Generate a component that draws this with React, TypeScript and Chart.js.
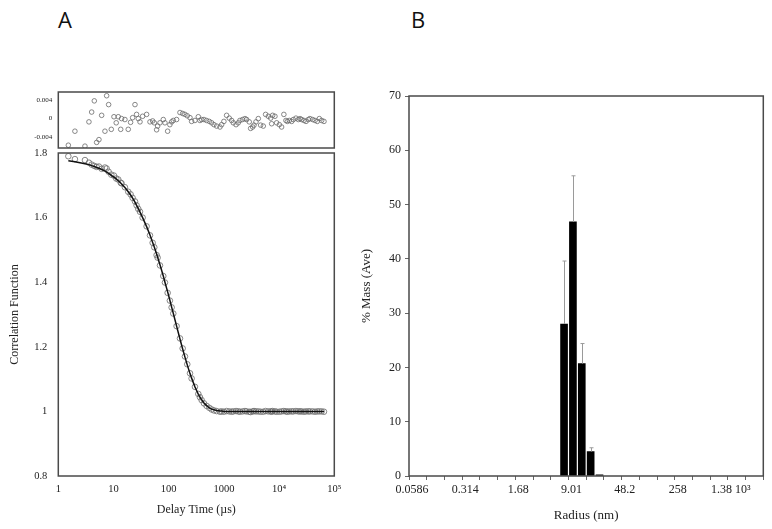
import React, { useEffect, useRef } from "react";
import { Chart, registerables } from "chart.js";

Chart.register(...registerables);

// ---------- Panel A data ----------
const delayTimes = [
  1.52, 2.0, 3.04, 3.59, 4.02, 4.49, 4.95, 5.45, 6.1, 7.0, 7.51, 8.16, 9.12, 10.2, 11.2, 12.2,
  13.5, 14.0, 16.1, 18.5, 20.4, 22.2, 24.5, 26.2, 28.1, 30.2, 33.7, 39.8, 45.8, 51.2, 54.8, 60.4,
  63.0, 69.5, 79.8, 85.5, 95.7, 105, 113, 121, 139, 160, 179, 197, 217, 243, 260, 299, 344, 368,
  395, 435, 486, 544, 600, 661, 738, 849, 910, 1000, 1120, 1250, 1380, 1480, 1660, 1820, 1950,
  2180, 2410, 2580, 2880, 3050, 3320, 3510, 3810, 4200, 4630, 5170, 5700, 6370, 7030, 7330, 7640,
  8410, 9020, 10100, 11100, 12200, 13300, 14100, 15300, 16900, 18100, 20200, 22300, 23900, 25600,
  28200, 30700, 33800, 36200, 40500, 44700, 49200, 53500, 59000, 65000,
];

const fitValues = [
  1.776, 1.773, 1.767, 1.764, 1.761, 1.758, 1.755, 1.753, 1.749, 1.744, 1.741, 1.737, 1.731, 1.725,
  1.72, 1.714, 1.707, 1.704, 1.693, 1.68, 1.67, 1.66, 1.648, 1.638, 1.628, 1.617, 1.6, 1.572, 1.546,
  1.523, 1.509, 1.487, 1.477, 1.454, 1.419, 1.4, 1.37, 1.344, 1.323, 1.304, 1.264, 1.224, 1.193,
  1.168, 1.144, 1.117, 1.103, 1.076, 1.053, 1.044, 1.036, 1.026, 1.018, 1.011, 1.007, 1.005, 1.003,
  1.001, 1.001, 1.0, 1.0, 1.0, 1.0, 1.0, 1.0, 1.0, 1.0, 1.0, 1.0, 1.0, 1.0, 1.0, 1.0, 1.0, 1.0,
  1.0, 1.0, 1.0, 1.0, 1.0, 1.0, 1.0, 1.0, 1.0, 1.0, 1.0, 1.0, 1.0, 1.0, 1.0, 1.0, 1.0, 1.0, 1.0,
  1.0, 1.0, 1.0, 1.0, 1.0, 1.0, 1.0, 1.0, 1.0, 1.0, 1.0, 1.0, 1.0,
];

const correlationData = [
  1.79, 1.781, 1.778, 1.77, 1.764, 1.76, 1.757, 1.758, 1.751, 1.755, 1.752, 1.742, 1.733, 1.73,
  1.721, 1.718, 1.708, 1.706, 1.694, 1.68, 1.672, 1.661, 1.65, 1.638, 1.627, 1.618, 1.6, 1.573,
  1.545, 1.522, 1.508, 1.484, 1.476, 1.452, 1.419, 1.399, 1.367, 1.343, 1.322, 1.303, 1.264, 1.226,
  1.195, 1.17, 1.146, 1.118, 1.102, 1.076, 1.054, 1.044, 1.035, 1.025, 1.017, 1.011, 1.006, 1.003,
  1.001, 0.999, 1.0, 0.999, 1.001, 1.0, 0.999, 1.0, 1.001, 1.0, 0.999, 1.0, 1.001, 1.0, 0.999,
  0.998, 1.0, 1.001, 1.0, 1.0, 0.999, 0.999, 1.001, 1.0, 1.0, 0.999, 1.001, 1.0, 0.999, 0.999,
  1.0, 1.001, 1.0, 0.999, 1.0, 1.0, 1.0, 1.001, 1.0, 1.0, 1.0, 0.999, 1.0, 1.0, 1.0, 1.0, 0.999,
  1.0, 1.0, 1.0, 0.999,
];

const residuals = [
  -0.0057, -0.0027, -0.0059, -0.0007, 0.0014, 0.0038, -0.0051, -0.0045, 0.0007, -0.0027, 0.0049,
  0.003, -0.0023, 0.0004, -0.0009, 0.0004, -0.0023, 0.0, -0.0002, -0.0023, -0.0008, 0.0002, 0.003,
  0.0009, 0.0, -0.0007, 0.0005, 0.0009, -0.0007, -0.0005, -0.0009, -0.0024, -0.0016, -0.0009,
  -0.0002, -0.0009, -0.0027, -0.0013, -0.0007, -0.0004, -0.0002, 0.0013, 0.0011, 0.0009, 0.0006,
  0.0002, -0.0006, -0.0004, 0.0004, -0.0004, -0.0002, -0.0002, -0.0004, -0.0006, -0.0009, -0.0013,
  -0.0016, -0.0018, -0.0013, -0.0006, 0.0007, 0.0001, -0.0004, -0.0009, -0.0013, -0.0009, -0.0004,
  -0.0002, 0.0, -0.0002, -0.0007, -0.0021, -0.0018, -0.0014, -0.0007, 0.0, -0.0014, -0.0016, 0.0009,
  0.0005, 0.0001, -0.0011, 0.0007, 0.0005, -0.0009, -0.0013, -0.0018, 0.0009, -0.0004, -0.0006,
  -0.0004, -0.0006, -0.0002, 0.0001, -0.0002, 0.0, -0.0002, -0.0004, -0.0006, -0.0002, 0.0, -0.0002,
  -0.0004, -0.0006, 0.0, -0.0004, -0.0006,
];

const delayTickValues = [1, 10, 100, 1000, 10000, 100000];
const delayTickLabels = ["1", "10", "100", "1000", "10\u2074", "10\u2075"];
const corrTickValues = [0.8, 1, 1.2, 1.4, 1.6, 1.8];
const corrTickLabels = ["0.8", "1", "1.2", "1.4", "1.6", "1.8"];
const residTickValues = [-0.004, 0, 0.004];
const residTickLabels = ["-0.004", "0", "0.004"];

// ---------- Panel B data ----------
const radiusBins = [7.83, 10.36, 13.7, 18.13, 23.98];
const massPercent = [28.0, 46.8, 20.7, 4.5, 0.2];
const massError = [11.6, 8.5, 3.7, 0.7, 0];
const radiusLabelValues = [0.0586, 0.314, 1.68, 9.01, 48.2, 258, 1380];
const radiusTickLabels = ["0.0586", "0.314", "1.68", "9.01", "48.2", "258", "1.38 10\u00B3"];
const massTickValues = [0, 10, 20, 30, 40, 50, 60, 70];

const SERIF = "'Liberation Serif', 'Times New Roman', serif";
const TEXT = "#222";

const boxPlugin = {
  id: "box",
  afterDraw(chart: any) {
    const { ctx, chartArea } = chart;
    const { left, top, right, bottom } = chartArea;
    ctx.save();
    ctx.strokeStyle = "#4a4a4a";
    ctx.lineWidth = 1.5;
    ctx.strokeRect(left, top, right - left, bottom - top);
    ctx.restore();
  },
};

const errorBarPlugin = {
  id: "errorBars",
  afterDatasetsDraw(chart: any) {
    const xs = chart.scales.x;
    const ys = chart.scales.y;
    const ctx = chart.ctx;
    ctx.save();
    ctx.strokeStyle = "#9a9a9a";
    ctx.lineWidth = 1;
    radiusBins.forEach((r, i) => {
      const e = massError[i];
      if (!e) return;
      const x = Math.round(xs.getPixelForValue(r)) + 0.5;
      const y0 = ys.getPixelForValue(massPercent[i]);
      const y1 = ys.getPixelForValue(massPercent[i] + e);
      ctx.beginPath();
      ctx.moveTo(x, y0);
      ctx.lineTo(x, y1);
      ctx.moveTo(x - 2, y1);
      ctx.lineTo(x + 2, y1);
      ctx.stroke();
    });
    ctx.restore();
  },
};

function zeroPad(s: any) {
  s.paddingTop = 0;
  s.paddingBottom = 0;
  s.paddingLeft = 0;
  s.paddingRight = 0;
}

function useChart(ref: React.RefObject<HTMLCanvasElement>, makeConfig: () => any) {
  useEffect(() => {
    if (!ref.current) return;
    const chart = new Chart(ref.current, makeConfig());
    return () => chart.destroy();
  }, []);
}

export default function App() {
  const residRef = useRef<HTMLCanvasElement>(null);
  const mainRef = useRef<HTMLCanvasElement>(null);
  const barRef = useRef<HTMLCanvasElement>(null);

  // Residual panel
  useChart(residRef, () => ({
    type: "scatter",
    data: {
      datasets: [
        {
          data: delayTimes.map((t, i) => ({ x: t, y: residuals[i] })),
          pointRadius: 2.3,
          pointBorderWidth: 0.8,
          pointBorderColor: "#6a6a6a",
          pointBackgroundColor: "rgba(0,0,0,0)",
          showLine: false,
        },
      ],
    },
    options: {
      animation: false,
      responsive: false,
      events: [],
      layout: { padding: { top: 12, bottom: 7, left: 0, right: 10.7 } },
      plugins: { legend: { display: false }, tooltip: { enabled: false } },
      scales: {
        x: { type: "logarithmic", min: 1, max: 100000, display: false },
        y: {
          min: -0.0063,
          max: 0.0057,
          grid: { display: false, drawTicks: false },
          border: { display: false },
          afterBuildTicks: (s: any) => {
            s.ticks = residTickValues.map((v) => ({ value: v }));
          },
          afterFit: (s: any) => {
            s.width = 58.3;
            zeroPad(s);
          },
          ticks: {
            padding: 6,
            color: TEXT,
            font: { family: SERIF, size: 7 },
            callback: (v: any, i: number) => residTickLabels[i],
          },
        },
      },
    },
    plugins: [boxPlugin],
  }));

  // Main correlation panel
  useChart(mainRef, () => ({
    type: "scatter",
    data: {
      datasets: [
        {
          data: delayTimes.map((t, i) => ({ x: t, y: fitValues[i] })),
          showLine: true,
          borderColor: "#111",
          borderWidth: 1.5,
          pointRadius: 0,
          tension: 0,
        },
        {
          data: delayTimes.map((t, i) => ({ x: t, y: correlationData[i] })),
          showLine: false,
          pointRadius: 2.8,
          pointBorderWidth: 0.8,
          pointBorderColor: "#6a6a6a",
          pointBackgroundColor: "rgba(0,0,0,0)",
        },
      ],
    },
    options: {
      animation: false,
      responsive: false,
      events: [],
      layout: { padding: { top: 13, bottom: 0, left: 0, right: 10.7 } },
      plugins: { legend: { display: false }, tooltip: { enabled: false } },
      scales: {
        x: {
          type: "logarithmic",
          min: 1,
          max: 100000,
          grid: { display: false, drawTicks: false },
          border: { display: false },
          afterBuildTicks: (s: any) => {
            s.ticks = delayTickValues.map((v) => ({ value: v }));
          },
          afterFit: (s: any) => {
            s.height = 53;
            zeroPad(s);
          },
          ticks: {
            padding: 7,
            color: TEXT,
            maxRotation: 0,
            autoSkip: false,
            font: { family: SERIF, size: 10.5 },
            callback: (v: any, i: number) => delayTickLabels[i],
          },
          title: {
            display: true,
            text: "Delay Time (\u00B5s)",
            color: TEXT,
            font: { family: SERIF, size: 12 },
            padding: { top: 0, bottom: 12 },
          },
        },
        y: {
          min: 0.8,
          max: 1.8,
          grid: { display: false, drawTicks: false },
          border: { display: false },
          afterBuildTicks: (s: any) => {
            s.ticks = corrTickValues.map((v) => ({ value: v }));
          },
          afterFit: (s: any) => {
            s.width = 58.3;
            zeroPad(s);
          },
          ticks: {
            padding: 11,
            color: TEXT,
            font: { family: SERIF, size: 10.5 },
            callback: (v: any, i: number) => corrTickLabels[i],
          },
          title: {
            display: true,
            text: "Correlation Function",
            color: TEXT,
            font: { family: SERIF, size: 12 },
            padding: { top: 8, bottom: 0 },
          },
        },
      },
    },
    plugins: [boxPlugin],
  }));

  // Panel B bars
  useChart(barRef, () => {
    const radiusTicks: number[] = [];
    const n = radiusLabelValues.length;
    for (let i = 0; i < n; i++) {
      const a = radiusLabelValues[i];
      const b = i + 1 < n ? radiusLabelValues[i + 1] : a * (a / radiusLabelValues[i - 1]);
      radiusTicks.push(a, a * Math.pow(b / a, 1 / 3), a * Math.pow(b / a, 2 / 3));
    }
    const xMax = radiusTicks[radiusTicks.length - 1];
    return {
      type: "bar",
      data: {
        datasets: [
          {
            data: radiusBins.map((r, i) => ({ x: r, y: massPercent[i] })),
            backgroundColor: "#000",
            borderWidth: 0,
            barThickness: 7,
          },
        ],
      },
      options: {
        animation: false,
        responsive: false,
        events: [],
        layout: { padding: { top: 16, bottom: 0, left: 0, right: 8.7 } },
        plugins: { legend: { display: false }, tooltip: { enabled: false } },
        scales: {
          x: {
            type: "logarithmic",
            min: radiusLabelValues[0],
            max: xMax,
            offset: false,
            grid: {
              display: true,
              offset: false,
              drawOnChartArea: false,
              drawTicks: true,
              tickLength: 4,
              color: "#666",
            },
            border: { display: false },
            afterBuildTicks: (s: any) => {
              s.ticks = radiusTicks.map((v) => ({ value: v }));
            },
            afterFit: (s: any) => {
              s.height = 53;
              zeroPad(s);
            },
            ticks: {
              padding: 3,
              labelOffset: 3,
              color: TEXT,
              maxRotation: 0,
              autoSkip: false,
              font: { family: SERIF, size: 12 },
              callback: (v: any, i: number) => (i % 3 === 0 ? radiusTickLabels[i / 3] : ""),
            },
            title: {
              display: true,
              text: "Radius (nm)",
              color: TEXT,
              font: { family: SERIF, size: 13 },
              padding: { top: 0, bottom: 6 },
            },
          },
          y: {
            min: 0,
            max: 70,
            grid: {
              display: true,
              drawOnChartArea: false,
              drawTicks: true,
              tickLength: 4,
              color: "#666",
            },
            border: { display: false },
            afterBuildTicks: (s: any) => {
              s.ticks = massTickValues.map((v) => ({ value: v }));
            },
            afterFit: (s: any) => {
              s.width = 69;
              zeroPad(s);
            },
            ticks: {
              padding: 4,
              color: TEXT,
              font: { family: SERIF, size: 12 },
              callback: (v: any, i: number) => String(massTickValues[i]),
            },
            title: {
              display: true,
              text: "% Mass (Ave)",
              color: TEXT,
              font: { family: SERIF, size: 13 },
              padding: { top: 19, bottom: 0 },
            },
          },
        },
      },
      plugins: [boxPlugin, errorBarPlugin],
    };
  });

  const abs = (l: number, t: number): React.CSSProperties => ({ position: "absolute", left: l, top: t });
  const letter: React.CSSProperties = {
    position: "absolute",
    fontFamily: "'Open Sans', 'Liberation Sans', sans-serif",
    fontSize: 22,
    lineHeight: "22px",
    color: "#111",
  };

  return (
    <div style={{ position: "fixed", left: 0, top: 0, width: 772, height: 529, background: "#fff", overflow: "hidden" }}>
      <div style={{ ...letter, left: 58, top: 8 }}>A</div>
      <div style={{ ...letter, left: 411, top: 8 }}>B</div>
      <canvas ref={residRef} width={345} height={75} style={{ ...abs(0, 80), width: 345, height: 75 }} />
      <canvas ref={mainRef} width={345} height={389} style={{ ...abs(0, 140), width: 345, height: 389 }} />
      <canvas ref={barRef} width={432} height={449} style={{ ...abs(340, 80), width: 432, height: 449 }} />
    </div>
  );
}
